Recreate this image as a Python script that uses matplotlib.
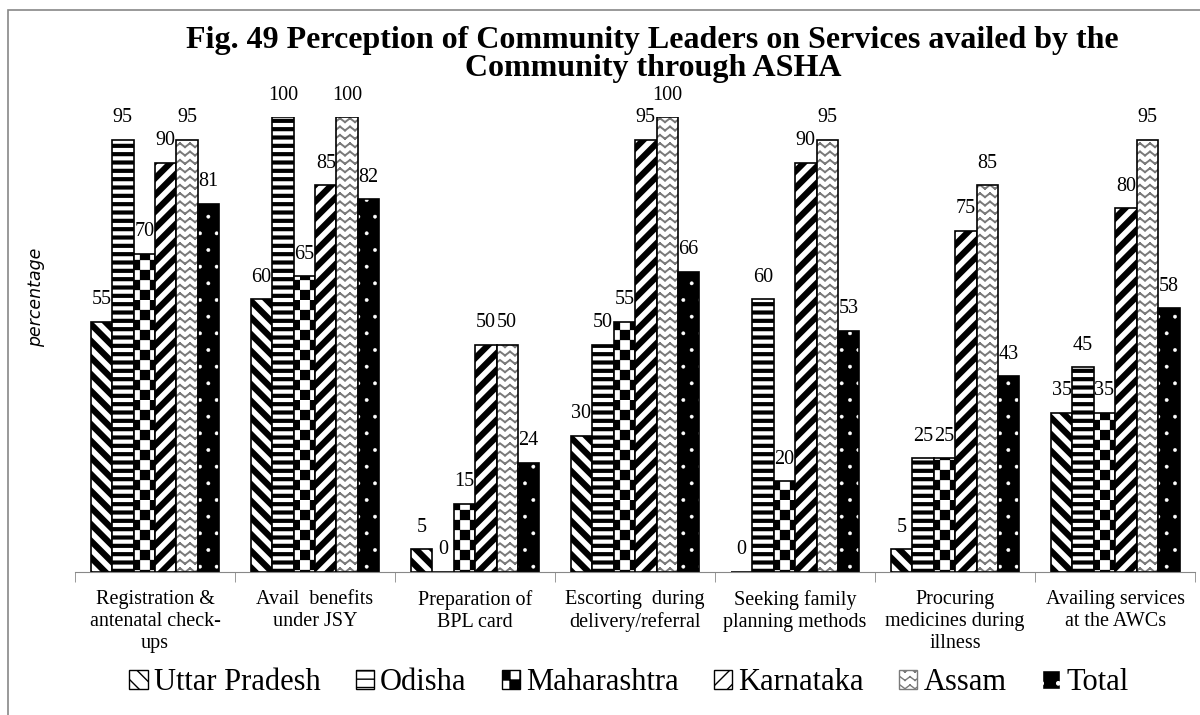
import matplotlib.pyplot as plt
import matplotlib.hatch as mhatch
from matplotlib.path import Path
from matplotlib.patches import Rectangle, Patch
import numpy as np

plt.rcParams['font.family'] = ['Liberation Serif', 'DejaVu Serif']


# two extra fill textures: 'o' -> checkerboard, 'O' -> light zig-zag rows
class CheckerHatch(mhatch.HatchPatternBase):
    def __init__(self, hatch, density):
        self.n = hatch.count('o') * 5
        self.cells = [(i, j) for i in range(self.n) for j in range(self.n) if (i + j) % 2 == 0]
        self.num_vertices = len(self.cells) * 5

    def set_vertices_and_codes(self, vertices, codes):
        s = 1.0 / self.n
        for k, (i, j) in enumerate(self.cells):
            x0, y0 = i * s, j * s
            vertices[k * 5:k * 5 + 5] = [(x0, y0), (x0 + s, y0), (x0 + s, y0 + s), (x0, y0 + s), (x0, y0)]
            codes[k * 5:k * 5 + 5] = [Path.MOVETO, Path.LINETO, Path.LINETO, Path.LINETO, Path.CLOSEPOLY]


class ZigzagHatch(mhatch.HatchPatternBase):
    def __init__(self, hatch, density):
        self.rows = hatch.count('O') * 12
        self.teeth = hatch.count('O') * 10
        self.num_vertices = self.rows * self.teeth * 4

    def set_vertices_and_codes(self, vertices, codes):
        dy = 1.0 / self.rows
        dx = 1.0 / self.teeth
        k = 0
        for r in range(self.rows):
            y = (r + 0.8) * dy
            for t in range(self.teeth):
                x = t * dx
                vertices[k:k + 4] = [(x, y), (x + dx / 2, y - 0.45 * dy),
                                     (x + dx / 2, y - 0.45 * dy), (x + dx, y)]
                codes[k:k + 4] = [Path.MOVETO, Path.LINETO, Path.MOVETO, Path.LINETO]
                k += 4


mhatch._hatch_types = [mhatch.HorizontalHatch, mhatch.VerticalHatch,
                       mhatch.NorthEastHatch, mhatch.SouthEastHatch,
                       mhatch.SmallFilledCircles, CheckerHatch, ZigzagHatch]

# services (x axis)
services = ['Registration &\nantenatal check-\nups', 'Avail  benefits\nunder JSY',
            'Preparation of\nBPL card', 'Escorting  during\ndelivery/referral',
            'Seeking family\nplanning methods', 'Procuring\nmedicines during\nillness',
            'Availing services\nat the AWCs']

# percentage by state
uttar_pradesh = [55, 60, 5, 30, 0, 5, 35]
odisha = [95, 100, 0, 50, 60, 25, 45]
maharashtra = [70, 65, 15, 55, 20, 25, 35]
karnataka = [90, 85, 50, 95, 90, 75, 80]
assam = [95, 100, 50, 100, 95, 85, 95]
total = [81, 82, 24, 66, 53, 43, 58]

series = [('Uttar Pradesh', uttar_pradesh), ('Odisha', odisha), ('Maharashtra', maharashtra),
          ('Karnataka', karnataka), ('Assam', assam), ('Total', total)]

# hatch, face colour, hatch colour, hatch linewidth
styles = [('\\\\', 'white', 'black', 4.5),
          ('--', 'white', 'black', 3.0),
          ('oo', 'white', 'black', 0.2),
          ('//', 'white', 'black', 4.5),
          ('O', 'white', '#7a7a7a', 1.4),
          ('.', 'black', 'white', 0.3)]

fig = plt.figure(figsize=(12, 7.15), dpi=100)
ax = fig.add_axes([0.0625, 0.2, 0.9335, 0.636])

x = np.arange(len(services))
w = 0.134
handles = []
for i, (name, vals) in enumerate(series):
    hatch, fc, hc, hlw = styles[i]
    pos = x + (i - 2.5) * w
    with plt.rc_context({'hatch.linewidth': hlw}):
        ax.bar(pos, vals, w, color=fc, edgecolor=hc, hatch=hatch, linewidth=0)
        handles.append(Patch(facecolor=fc, edgecolor=hc, hatch=hatch, label=name))
    ax.bar(pos, vals, w, fill=False, edgecolor='black', linewidth=1.2)
    for px, v in zip(pos, vals):
        ax.annotate(str(v), (px, v), xytext=(0, 9), textcoords='offset points',
                    ha='center', va='bottom', fontsize=14.5)

ax.set_xlim(-0.5, 6.5)
ax.set_ylim(0, 100)
for s in ['top', 'right', 'left']:
    ax.spines[s].set_visible(False)
ax.spines['bottom'].set_color('#888888')
ax.set_yticks([])
ax.set_xticks(x)
ax.set_xticklabels(services, fontsize=14.5, linespacing=1.22)
ax.tick_params(axis='x', which='major', length=0, pad=13)
ax.set_xticks(np.arange(-0.5, 7, 1), minor=True)
ax.tick_params(axis='x', which='minor', length=7, color='#888888')

ax.set_ylabel('percentage', family='DejaVu Sans', style='italic', fontsize=12.5)
ax.yaxis.set_label_coords(-0.027, 0.604)

fig.suptitle('Fig. 49 Perception of Community Leaders on Services availed by the\nCommunity through ASHA',
             x=0.544, y=0.963, va='top', fontsize=23, fontweight='bold', linespacing=0.95)

fig.legend(handles=handles, loc='center', bbox_to_anchor=(0.524, 0.045), ncol=6,
           frameon=False, fontsize=22, handlelength=0.6, handleheight=0.6,
           handletextpad=0.2, columnspacing=1.15)

# outer chart border
fig.add_artist(Rectangle((8 / 1200, -0.1), 1.2, 1.1 - 10 / 715, transform=fig.transFigure,
                         fill=False, edgecolor='#888888', linewidth=1.2))

fig.savefig('out.png', dpi=100)
